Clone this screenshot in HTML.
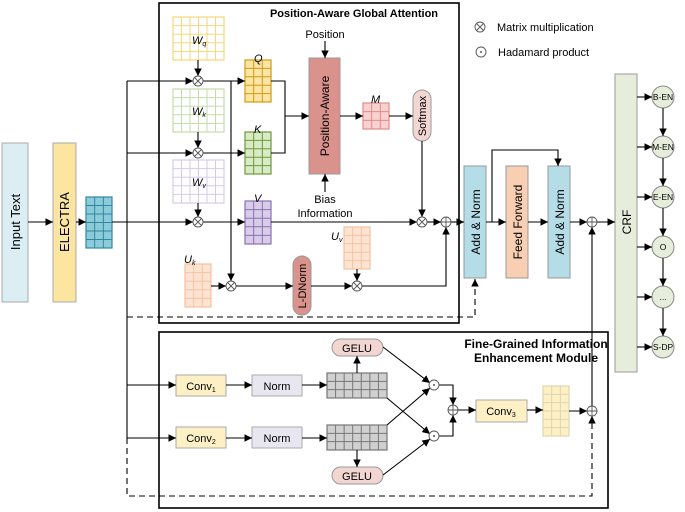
<!DOCTYPE html>
<html><head><meta charset="utf-8"><style>
html,body{margin:0;padding:0;background:#fff;}
svg{display:block;font-family:"Liberation Sans",sans-serif;}
</style></head><body>
<svg id="s" width="685" height="512" viewBox="0 0 685 512" xmlns="http://www.w3.org/2000/svg">
<defs>
<marker id="a" viewBox="0 0 10 10" refX="10" refY="5" markerWidth="7" markerHeight="7" orient="auto"><path d="M0,0L10,5L0,10z" fill="#000"/></marker>
</defs>
<g stroke="#000" stroke-width="1.3" fill="none">
<rect x="159" y="3" width="300" height="320" stroke-width="1.6"/>
<rect x="159" y="332" width="449" height="176" stroke-width="1.6"/>
</g>
<rect x="2" y="143" width="26" height="159" fill="#daeef3" stroke="#aaa"/>
<text transform="translate(20,222) rotate(-90)" text-anchor="middle" font-size="13">Input Text</text>
<rect x="53" y="143" width="23" height="159" fill="#fce5a0" stroke="#aaa"/>
<text transform="translate(69,222) rotate(-90)" text-anchor="middle" font-size="13">ELECTRA</text>
<rect x="309" y="58" width="31" height="116" fill="#d9928c" stroke="#999"/>
<text transform="translate(329,116) rotate(-90)" text-anchor="middle" font-size="12">Position-Aware</text>
<rect x="413" y="90" width="18" height="51" rx="9" fill="#f2d6d2" stroke="#999"/>
<text transform="translate(426,116) rotate(-90)" text-anchor="middle" font-size="11">Softmax</text>
<rect x="293" y="256" width="18" height="59" rx="9" fill="#d9928c" stroke="#999"/>
<text transform="translate(306,286) rotate(-90)" text-anchor="middle" font-size="11">L-DNorm</text>
<rect x="464" y="166" width="22" height="112" fill="#b4dde8" stroke="#999"/>
<text transform="translate(480,222) rotate(-90)" text-anchor="middle" font-size="12">Add &amp; Norm</text>
<rect x="506" y="166" width="22" height="112" fill="#f8cfb2" stroke="#999"/>
<text transform="translate(522,222) rotate(-90)" text-anchor="middle" font-size="12">Feed Forward</text>
<rect x="548" y="166" width="22" height="112" fill="#b4dde8" stroke="#999"/>
<text transform="translate(564,222) rotate(-90)" text-anchor="middle" font-size="12">Add &amp; Norm</text>
<rect x="615" y="74" width="22" height="298" fill="#e6eedb" stroke="#999"/>
<text transform="translate(631,222) rotate(-90)" text-anchor="middle" font-size="12">CRF</text>
<g id="circ"></g>
<rect x="176" y="375" width="50" height="21" fill="#fdf0c4" stroke="#aaa"/><text x="201" y="390" text-anchor="middle" font-size="11">Conv<tspan font-size="7" dy="2">1</tspan></text>
<rect x="176" y="427" width="50" height="21" fill="#fdf0c4" stroke="#aaa"/><text x="201" y="442" text-anchor="middle" font-size="11">Conv<tspan font-size="7" dy="2">2</tspan></text>
<rect x="252" y="375" width="50" height="21" fill="#e8e6f0" stroke="#aaa"/><text x="277" y="390" text-anchor="middle" font-size="11">Norm</text>
<rect x="252" y="427" width="50" height="21" fill="#e8e6f0" stroke="#aaa"/><text x="277" y="442" text-anchor="middle" font-size="11">Norm</text>
<rect x="476" y="400" width="51" height="22" fill="#fdf0c4" stroke="#aaa"/><text x="501" y="415" text-anchor="middle" font-size="11">Conv<tspan font-size="7" dy="2">3</tspan></text>
<rect x="332" y="339" width="51" height="17" rx="8.5" fill="#f2d6d2" stroke="#999"/><text x="357" y="352" text-anchor="middle" font-size="11">GELU</text>
<rect x="332" y="467" width="51" height="17" rx="8.5" fill="#f2d6d2" stroke="#999"/><text x="357" y="480" text-anchor="middle" font-size="11">GELU</text>
<g id="grids"></g>
<text x="354" y="17" text-anchor="middle" font-size="11" font-weight="bold">Position-Aware Global Attention</text>
<text x="536" y="348" text-anchor="middle" font-size="12" font-weight="bold">Fine-Grained Information</text>
<text x="536" y="362" text-anchor="middle" font-size="12" font-weight="bold">Enhancement Module</text>
<text x="325" y="38" text-anchor="middle" font-size="11">Position</text>
<text x="325" y="203" text-anchor="middle" font-size="11">Bias</text>
<text x="325" y="217" text-anchor="middle" font-size="11">Information</text>
<text x="497" y="31" font-size="11">Matrix multiplication</text>
<text x="498" y="56" font-size="11">Hadamard product</text>
<g font-size="11" font-style="italic">
<text x="192" y="44">W<tspan font-size="7" dy="2">q</tspan></text>
<text x="192" y="115">W<tspan font-size="7" dy="2">k</tspan></text>
<text x="192" y="186">W<tspan font-size="7" dy="2">v</tspan></text>
<text x="254" y="62">Q</text><text x="254" y="133">K</text><text x="254" y="202">V</text>
<text x="371" y="103">M</text>
<text x="184" y="263">U<tspan font-size="7" dy="2">k</tspan></text>
<text x="331" y="240">U<tspan font-size="7" dy="2">v</tspan></text>
</g>
<g stroke="#000" stroke-width="1.1" fill="none" id="L">
<path d="M28,222H53" marker-end="url(#a)"/>
<path d="M76,222H86" marker-end="url(#a)"/>
<path d="M112,222H193" marker-end="url(#a)"/>
<path d="M127,81V438"/>
<path d="M127,81H193" marker-end="url(#a)"/>
<path d="M127,153H193" marker-end="url(#a)"/>
<path d="M198,60V76" marker-end="url(#a)"/>
<path d="M198,132V148" marker-end="url(#a)"/>
<path d="M198,203V217" marker-end="url(#a)"/>
<path d="M203,81H245" marker-end="url(#a)"/>
<path d="M203,153H245" marker-end="url(#a)"/>
<path d="M203,222H245" marker-end="url(#a)"/>
<path d="M231,81V281" marker-end="url(#a)"/>
<path d="M271,81H285V153H271"/>
<path d="M285,116H309" marker-end="url(#a)"/>
<path d="M325,41V58" marker-end="url(#a)"/>
<path d="M325,192V174" marker-end="url(#a)"/>
<path d="M340,116H363" marker-end="url(#a)"/>
<path d="M389,116H413" marker-end="url(#a)"/>
<path d="M422,141V217" marker-end="url(#a)"/>
<path d="M271,222H417" marker-end="url(#a)"/>
<path d="M427,222H441" marker-end="url(#a)"/>
<path d="M451,222H464" marker-end="url(#a)"/>
<path d="M211,286H226" marker-end="url(#a)"/>
<path d="M236,286H293" marker-end="url(#a)"/>
<path d="M311,286H352" marker-end="url(#a)"/>
<path d="M357,269V281" marker-end="url(#a)"/>
<path d="M362,286H446V227" marker-end="url(#a)"/>
<path d="M486,222H506" marker-end="url(#a)"/>
<path d="M528,222H548" marker-end="url(#a)"/>
<path d="M492,222V150H558V166" marker-end="url(#a)"/>
<path d="M570,222H587" marker-end="url(#a)"/>
<path d="M597,222H615" marker-end="url(#a)"/>
<path d="M592,406V227" marker-end="url(#a)"/>
<path d="M127,385H176" marker-end="url(#a)"/>
<path d="M127,438H176" marker-end="url(#a)"/>
<path d="M226,385H252" marker-end="url(#a)"/>
<path d="M226,438H252" marker-end="url(#a)"/>
<path d="M302,385H327" marker-end="url(#a)"/>
<path d="M302,438H327" marker-end="url(#a)"/>
<path d="M357,373V356" marker-end="url(#a)"/>
<path d="M357,450V467" marker-end="url(#a)"/>
<path d="M383,347L430,383" marker-end="url(#a)"/>
<path d="M387,398L430,434" marker-end="url(#a)"/>
<path d="M387,425L430,388" marker-end="url(#a)"/>
<path d="M383,475L430,439" marker-end="url(#a)"/>
<path d="M438,385H453V405" marker-end="url(#a)"/>
<path d="M438,436H453V415" marker-end="url(#a)"/>
<path d="M458,410H476" marker-end="url(#a)"/>
<path d="M527,410H543" marker-end="url(#a)"/>
<path d="M569,411H587" marker-end="url(#a)"/>
<path d="M637,97H652" marker-end="url(#a)"/>
<path d="M637,147H652" marker-end="url(#a)"/>
<path d="M637,197H652" marker-end="url(#a)"/>
<path d="M637,247H652" marker-end="url(#a)"/>
<path d="M637,297H652" marker-end="url(#a)"/>
<path d="M637,347H652" marker-end="url(#a)"/>
<path d="M663,108V136" marker-end="url(#a)"/>
<path d="M663,158V186" marker-end="url(#a)"/>
<path d="M663,208V236" marker-end="url(#a)"/>
<path d="M663,258V286" marker-end="url(#a)"/>
<path d="M663,308V336" marker-end="url(#a)"/>
<g stroke-dasharray="6,4">
<path d="M127,317H475V279" marker-end="url(#a)"/>
<path d="M127,438V496H592V416" marker-end="url(#a)"/>
</g>
</g>
<g id="ops"></g>
</svg>
<script>
var NS="http://www.w3.org/2000/svg";
function el(p,t,a,txt){var e=document.createElementNS(NS,t);for(var k in a)e.setAttribute(k,a[k]);if(txt)e.textContent=txt;document.getElementById(p).appendChild(e);return e;}
function grid(x,y,w,h,c,r,fill,st){
 el("grids","rect",{x:x,y:y,width:w,height:h,fill:fill,stroke:st,"stroke-width":1.2});
 var d="";for(var i=1;i<c;i++){var xx=x+w*i/c;d+="M"+xx+","+y+"V"+(y+h);}
 for(var j=1;j<r;j++){var yy=y+h*j/r;d+="M"+x+","+yy+"H"+(x+w);}
 el("grids","path",{d:d,stroke:st,"stroke-width":1,fill:"none"});
}
grid(86,197,26,51,3,6,"#8dcbd9","#2d8aa6");
grid(173,17,51,43,6,5,"#fff","#f6d77a");
grid(173,89,51,43,6,5,"#fff","#c5dcaa");
grid(173,160,51,43,6,5,"#fff","#d5cbe6");
grid(245,60,26,42,3,5,"#fde5a6","#d29b12");
grid(245,132,26,42,3,5,"#d9eac6","#6b9a3a");
grid(245,201,26,43,3,5,"#d7cde8","#8e6fb4");
grid(363,103,26,26,3,3,"#f8d2d0","#e38b88");
grid(185,264,26,43,3,5,"#fde3d2","#f6c2a1");
grid(344,227,26,42,3,5,"#fde3d2","#f6c2a1");
grid(327,373,60,25,7,3,"#d0d0d0","#777");
grid(327,425,60,25,7,3,"#d0d0d0","#777");
grid(543,386,26,50,3,6,"#fdf0c4","#e0d4b0");
function op(x,y,t){el("ops","circle",{cx:x,cy:y,r:5,fill:"#fff",stroke:"#555","stroke-width":0.9});
 var d=t=="x"?"M"+(x-3.5)+","+(y-3.5)+"L"+(x+3.5)+","+(y+3.5)+"M"+(x+3.5)+","+(y-3.5)+"L"+(x-3.5)+","+(y+3.5):t=="+"?"M"+(x-5)+","+y+"H"+(x+5)+"M"+x+","+(y-5)+"V"+(y+5):"";
 if(d)el("ops","path",{d:d,stroke:"#555","stroke-width":0.9});
 if(t=="o")el("ops","circle",{cx:x,cy:y,r:1,fill:"#555"});}
op(198,81,"x");op(198,153,"x");op(198,222,"x");op(422,222,"x");op(446,222,"+");
op(231,286,"x");op(357,286,"x");op(592,222,"+");op(434,385,"o");op(434,436,"o");op(453,410,"+");op(592,411,"+");
op(480,27,"x");op(481,52,"o");
var labs=["B-EN","M-EN","E-EN","O","...","S-DP"];
for(var i=0;i<6;i++){var cy=97+50*i;el("circ","circle",{cx:663,cy:cy,r:11,fill:"#e6eedb",stroke:"#888"});
 el("circ","text",{x:663,y:cy+3,"text-anchor":"middle","font-size":8.5},labs[i]);}
</script>
</body></html>
